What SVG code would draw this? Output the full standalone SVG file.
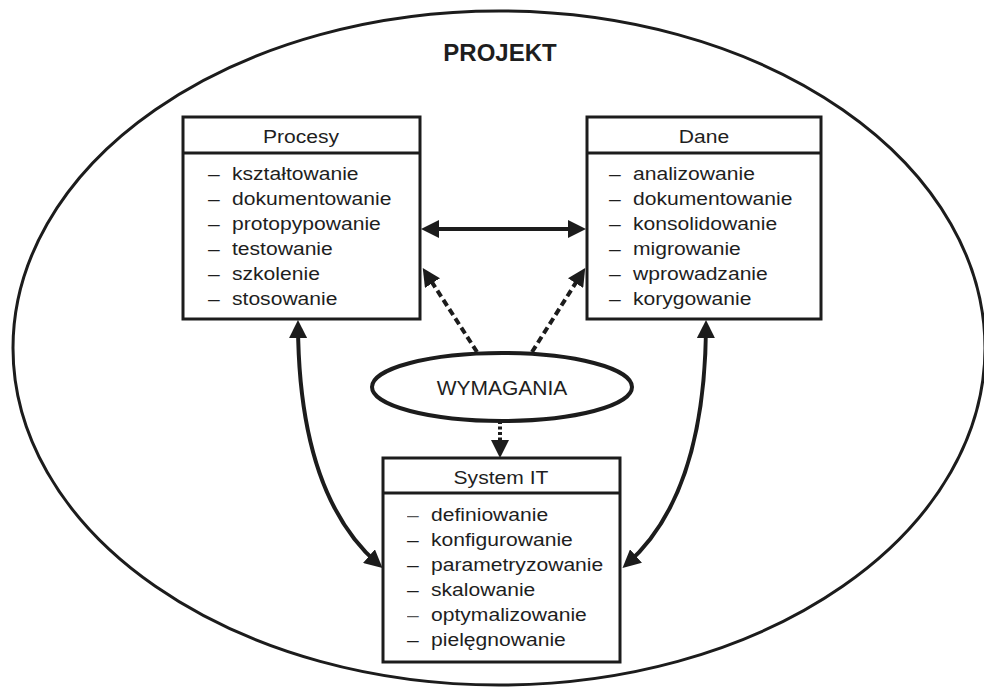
<svg xmlns="http://www.w3.org/2000/svg" width="984" height="688" viewBox="0 0 984 688">
  <style>
    .frame { fill: none; stroke: #1c1c1c; stroke-width: 3; }
    .box { fill: #ffffff; stroke: #1c1c1c; stroke-width: 3; }
    .sep { stroke: #1c1c1c; stroke-width: 3; }
    .txt { font-family: "Liberation Sans", Arial, sans-serif; font-size: 18.5px; fill: #1e1e1e; }
    .ttl { text-anchor: middle; }
    .link { fill: none; stroke: #1c1c1c; stroke-width: 4; }
    .dash { stroke-dasharray: 7 4; }
    .dash-short { stroke-dasharray: 3 2.5; }
  </style>
  <defs>
    <marker id="head" viewBox="0 0 18 18" refX="12" refY="9" markerWidth="18" markerHeight="18" markerUnits="userSpaceOnUse" orient="auto-start-reverse">
      <path d="M0,0 L18,9 L0,18 z" fill="#1c1c1c"/>
    </marker>
  </defs>

  <!-- project boundary -->
  <g id="projekt">
    <ellipse class="frame" cx="499" cy="348" rx="486" ry="337"/>
    <text x="500" y="61" text-anchor="middle" font-family="Liberation Sans, Arial, sans-serif" font-size="24" font-weight="bold" fill="#1e1e1e">PROJEKT</text>
  </g>

  <!-- Procesy -->
  <g id="procesy">
    <rect class="box" x="183" y="117" width="237" height="202"/>
    <line class="sep" x1="183" y1="153" x2="420" y2="153"/>
    <g class="txt" transform="translate(301,0) scale(1.14,1)">
      <text class="ttl" x="0" y="143">Procesy</text>
    </g>
    <g class="txt" transform="translate(232,0) scale(1.14,1)">
      <text x="-21" y="180.5">–</text><text x="0" y="180.5">kształtowanie</text>
      <text x="-21" y="205.5">–</text><text x="0" y="205.5">dokumentowanie</text>
      <text x="-21" y="230.5">–</text><text x="0" y="230.5">protopypowanie</text>
      <text x="-21" y="255.5">–</text><text x="0" y="255.5">testowanie</text>
      <text x="-21" y="280.5">–</text><text x="0" y="280.5">szkolenie</text>
      <text x="-21" y="305.5">–</text><text x="0" y="305.5">stosowanie</text>
    </g>
  </g>

  <!-- Dane -->
  <g id="dane">
    <rect class="box" x="587" y="117" width="234" height="202"/>
    <line class="sep" x1="587" y1="153" x2="821" y2="153"/>
    <g class="txt" transform="translate(704,0) scale(1.14,1)">
      <text class="ttl" x="0" y="143">Dane</text>
    </g>
    <g class="txt" transform="translate(633,0) scale(1.14,1)">
      <text x="-21" y="180.5">–</text><text x="0" y="180.5">analizowanie</text>
      <text x="-21" y="205.5">–</text><text x="0" y="205.5">dokumentowanie</text>
      <text x="-21" y="230.5">–</text><text x="0" y="230.5">konsolidowanie</text>
      <text x="-21" y="255.5">–</text><text x="0" y="255.5">migrowanie</text>
      <text x="-21" y="280.5">–</text><text x="0" y="280.5">wprowadzanie</text>
      <text x="-21" y="305.5">–</text><text x="0" y="305.5">korygowanie</text>
    </g>
  </g>

  <!-- System IT -->
  <g id="system-it">
    <rect class="box" x="383" y="458" width="237" height="204"/>
    <line class="sep" x1="383" y1="493" x2="620" y2="493"/>
    <g class="txt" transform="translate(501,0) scale(1.14,1)">
      <text class="ttl" x="0" y="484">System IT</text>
    </g>
    <g class="txt" transform="translate(431,0) scale(1.14,1)">
      <text x="-21" y="521" opacity="0.75">–</text><text x="0" y="521">definiowanie</text>
      <text x="-21" y="546">–</text><text x="0" y="546">konfigurowanie</text>
      <text x="-21" y="571">–</text><text x="0" y="571">parametryzowanie</text>
      <text x="-21" y="596">–</text><text x="0" y="596">skalowanie</text>
      <text x="-21" y="621" opacity="0.75">–</text><text x="0" y="621">optymalizowanie</text>
      <text x="-21" y="646">–</text><text x="0" y="646">pielęgnowanie</text>
    </g>
  </g>

  <!-- Wymagania -->
  <g id="wymagania">
    <ellipse cx="502" cy="387" rx="130" ry="34" fill="#ffffff" stroke="#1c1c1c" stroke-width="4"/>
    <text x="502" y="395" text-anchor="middle" font-family="Liberation Sans, Arial, sans-serif" font-size="21" fill="#1e1e1e">WYMAGANIA</text>
  </g>

  <!-- connectors -->
  <g id="connectors">
    <line class="link" x1="427" y1="229" x2="580" y2="229" marker-start="url(#head)" marker-end="url(#head)"/>
    <line class="link dash" x1="477" y1="352" x2="426" y2="273" marker-end="url(#head)"/>
    <line class="link dash" x1="532" y1="352" x2="582" y2="273" marker-end="url(#head)"/>
    <line class="link dash-short" x1="500" y1="421" x2="500" y2="452" marker-end="url(#head)"/>
    <path class="link" d="M298,326 Q299,495 378,564" marker-start="url(#head)" marker-end="url(#head)"/>
    <path class="link" d="M706,326 Q705,495 627,564" marker-start="url(#head)" marker-end="url(#head)"/>
  </g>
</svg>
